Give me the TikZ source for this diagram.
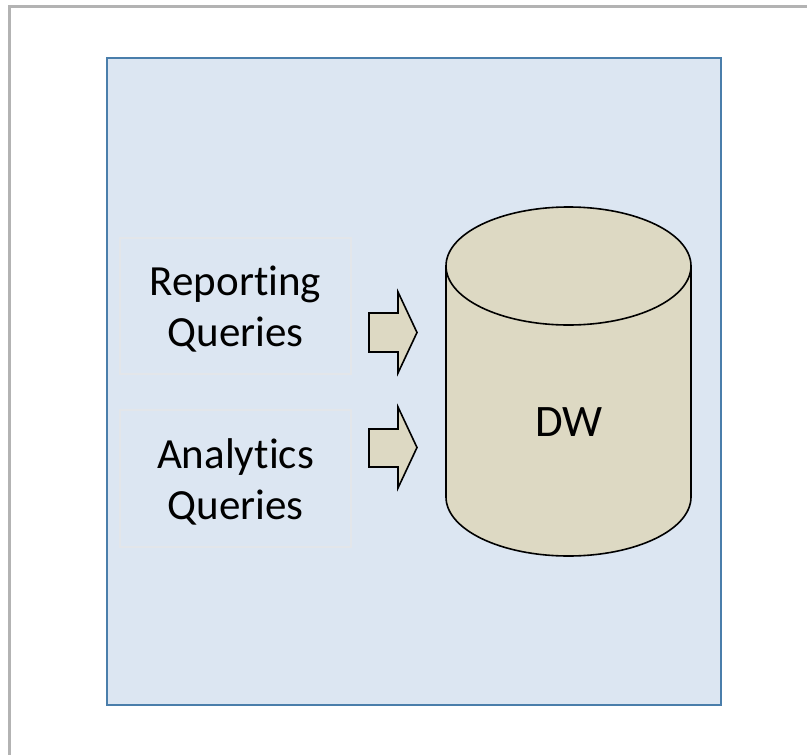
\documentclass[tikz,border=0pt]{standalone}
\usepackage{fontspec}
\setmainfont[Ligatures={NoCommon}]{Carlito}
\definecolor{panelfill}{HTML}{DCE6F2}
\definecolor{paneledge}{HTML}{4A7EAB}
\definecolor{tan}{HTML}{DDD9C3}
\definecolor{framegray}{HTML}{B3B3B3}
\definecolor{softedge}{HTML}{E3E6EA}
\tikzset{
  labelbox/.style={draw=softedge,line width=2pt,fill=panelfill,minimum width=231pt,inner sep=0pt,anchor=north west},
  boxtext/.style={align=center,font=\fontsize{43}{51}\selectfont,inner sep=0pt,yshift=-3.5pt},
  blockarrow/.style={draw=black,line width=1.6pt,fill=tan,line join=miter},
  drum/.style={draw=black,line width=1.6pt,fill=tan}
}
\begin{document}
\begin{tikzpicture}[x=1pt,y=-1pt]
\useasboundingbox (0,0) rectangle (807,755);
\fill[white] (0,0) rectangle (807,755);
\draw[framegray,line width=3pt] (9,755) -- (9,6.5) -- (807,6.5);
\draw[paneledge,line width=2.4pt,fill=panelfill] (107,58) rectangle (721,705);
\node[labelbox,minimum height=136pt] (rq) at (119,237) {};
\node[boxtext] (rqt) at (rq.center) {Reporting\\Queries};
\node[labelbox,minimum height=137pt] (aq) at (119,409) {};
\node[boxtext] (aqt) at (aq.center) {Analytics\\Queries};
\draw[blockarrow] (369,313) -- (398,313) -- (398,292) -- (417,332.5) -- (398,373) -- (398,352) -- (369,352) -- cycle;
\draw[blockarrow] (369,429) -- (398,429) -- (398,407) -- (417,447.5) -- (398,488) -- (398,467) -- (369,467) -- cycle;
\draw[drum] (446,266) -- (446,497) arc[start angle=180,end angle=0,x radius=122.5,y radius=59] -- (691,266) arc[start angle=0,end angle=-180,x radius=122.5,y radius=59] -- cycle;
\draw[drum,fill=none] (446,266) arc[start angle=180,end angle=0,x radius=122.5,y radius=59];
\node[font=\fontsize{45}{51}\selectfont,inner sep=0pt] (dw) at (569,422) {DW};
\end{tikzpicture}
\end{document}
